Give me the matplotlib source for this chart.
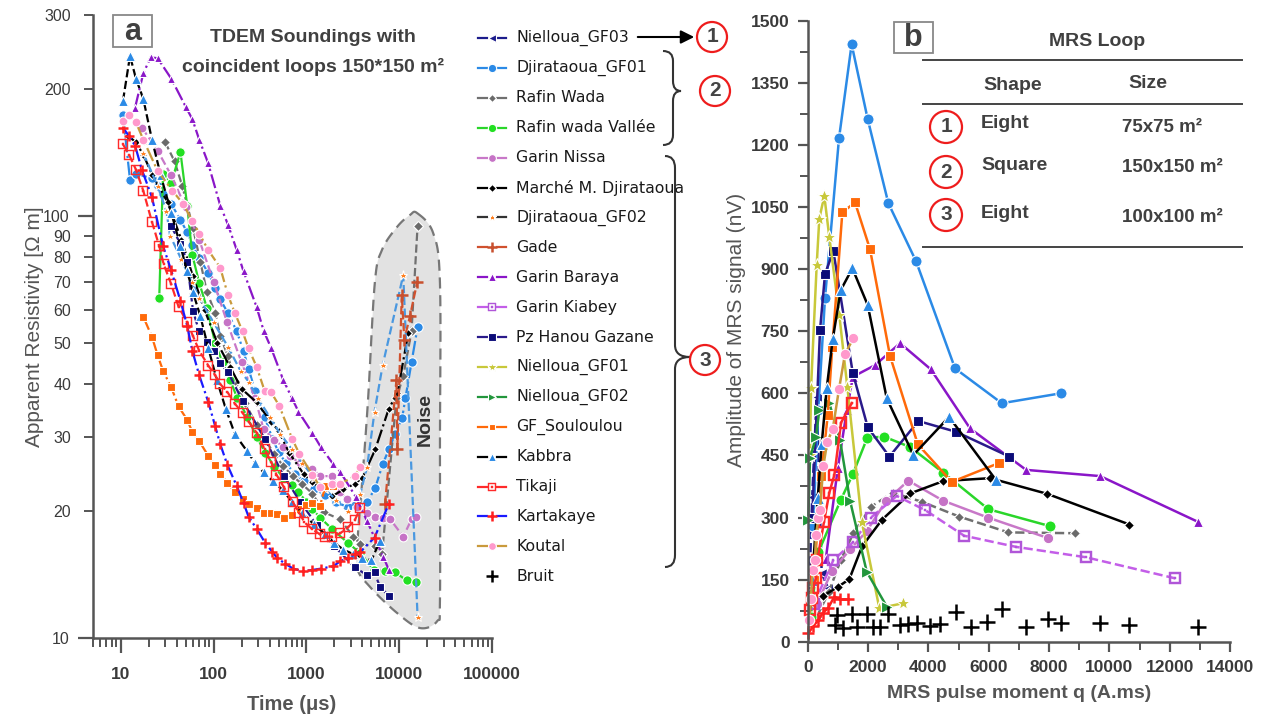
import numpy as np
import matplotlib
matplotlib.use('Agg')
import matplotlib.pyplot as plt
from matplotlib.lines import Line2D
from matplotlib.patches import Ellipse, Rectangle, PathPatch, Polygon, FancyArrowPatch
from matplotlib.path import Path
from matplotlib.ticker import FixedLocator, LogLocator, MultipleLocator, NullFormatter, FuncFormatter

plt.rcParams['font.family'] = ['Liberation Sans', 'DejaVu Sans']

W, H = 1270, 721

# ======================== Data: (a) TDEM soundings ========================
# time (us) / apparent resistivity (ohm.m)
djg01_t = [10.6, 12.6, 14.6, 21.7, 25, 28.6, 35, 44, 52, 59, 70, 88, 104, 118, 143, 178, 210, 238, 280,
           355, 430, 500, 600, 750, 950, 1200, 1600, 2100, 2800, 3500, 4500, 5500, 6600, 7700, 9000,
           10700, 11600, 13500, 15700]
djg01_rho = [174, 122, 126, 123, 118, 113, 107, 98, 91.6, 85.5, 79.6, 73.3, 67.5, 63.5, 58.9, 53.3, 47.8,
             43.5, 38.5, 33.4, 29.7, 27.6, 26, 24.5, 23.5, 22.6, 21.8, 21, 20.4, 20.5, 21, 22.7, 25.8, 28,
             30.5, 33.2, 37, 45, 54.6]

rw_t = [30, 38, 46, 60, 72, 85, 104, 118, 143, 170, 220, 290, 360, 450, 560, 710, 890, 1160, 1530, 2300,
        3200, 3800, 5500, 6500, 9300, 11000, 13500, 15700]
rw_rho = [150, 135, 118, 94, 78, 66, 59, 52, 46.5, 40.7, 36, 32, 29.5, 27.3, 25.6, 24.2, 23.2, 22, 19.9,
          19.1, 17.4, 16.7, 16.5, 15.8, 37, 41.8, 53.3, 95]

rwv_t = [26, 28.6, 35, 44, 52, 59, 70, 85, 104, 125, 150, 180, 230, 290, 360, 450, 560, 700, 820, 1000,
         1160, 1400, 1900, 2800, 3800, 5300, 7000, 9000, 12000, 15000]
rwv_rho = [64, 126, 120, 142, 106, 81, 69.6, 60.5, 50, 45, 41, 37, 33.5, 30, 27.5, 25.5, 24, 23, 22.2, 21,
           20.2, 19.3, 18.1, 16.8, 15.9, 14.5, 14.4, 14.3, 13.7, 13.6]

gn_t = [17, 25, 35, 50, 70, 100, 140, 200, 280, 345, 450, 560, 660, 850, 1160, 1400, 1900, 2300, 2700,
        3500, 4500, 5400, 6600, 8000, 11000, 13500, 15000]
gn_rho = [162, 143, 125, 105, 88, 70, 56, 45, 37, 31.3, 29.5, 28.4, 27, 26, 25.2, 24.2, 24.2, 22.2, 21.4,
          20.5, 19.8, 19.4, 19.3, 19.1, 17.4, 19.1, 19.4]

mm_t = [12, 14.5, 17.5, 22, 32, 45, 60, 80, 110, 150, 200, 290, 415, 500, 650, 930, 1160, 1500, 1900,
        2500, 3300, 4000, 5500, 7700, 9500, 12500]
mm_rho = [155, 150, 140, 125, 108, 88, 72, 60, 50, 44, 39, 36.2, 32.6, 31, 27.5, 24.5, 23.4, 22.5, 21.7,
          22.5, 23.2, 24, 28, 35, 38, 53]

djg02_t = [17.5, 25, 31, 34, 45, 58, 70, 100, 143, 195, 238, 300, 400, 520, 700, 900, 1200, 1600, 2100,
           2800, 3800, 4500, 5400, 6600, 11000, 15700]
djg02_rho = [141, 118, 103, 90, 79, 70, 64, 56, 49, 43, 40.5, 37, 33.5, 30.5, 28, 26, 24, 22.5, 21.2, 20,
             22, 25.5, 34.4, 44.3, 72.5, 11.2]

gade_t = [7000, 9300, 9500, 10600, 11300, 13000, 15600]
gade_rho = [20.8, 41, 28, 65, 51, 58, 70]

gb_t = [14.3, 17.5, 21, 25, 35, 50, 59, 70, 87, 118, 143, 178, 210, 290, 346, 418, 560, 700, 820, 1160,
        1420, 1950, 2300, 3400, 4500, 6700, 7700]
gb_rho = [181, 218, 238, 237, 212, 182, 170, 152, 134, 106, 95.5, 83, 74, 61, 53.5, 48.6, 41, 37, 34.4,
          30.6, 28.4, 25.8, 24.8, 21.6, 18.9, 15.6, 14.5]

ph_t = [35, 44, 52, 60, 70, 85, 100, 118, 143, 205, 355, 570, 860, 1300, 2000, 3300, 4500, 5400, 6200, 7700]
ph_rho = [94.6, 86, 78, 59.7, 53.3, 50.3, 48, 44.8, 42.7, 36.5, 29.7, 24.2, 21, 18.5, 16.5, 14.7, 14.1,
          14.3, 13.2, 12.6]

gfs_t = [17.5, 21.7, 25, 28.6, 35, 42, 52, 59, 70, 88, 104, 118, 141, 170, 205, 238, 290, 345, 415, 480,
         570, 700, 850, 1000, 1160, 1400, 1600, 1950]
gfs_rho = [57.8, 51.8, 46.8, 43, 39.3, 35.4, 32.9, 30.8, 29.3, 27, 25.7, 24.5, 23.3, 22.2, 21.4, 20.8, 20.3,
           19.8, 19.8, 19.7, 19.3, 19.6, 20.2, 20.7, 20.9, 20.6, 22.9, 22.9]

kab_t = [10.6, 12.6, 14.6, 17.5, 21.7, 27, 35, 44, 52, 60, 72, 88, 108, 135, 170, 230, 280, 345, 440, 560,
         700, 900, 1200, 1600, 2000, 2500, 3200, 4000, 5000, 6200]
kab_rho = [188, 240, 212, 190, 152, 125, 102, 85, 74, 66, 58, 48.6, 41, 35, 30.4, 27.7, 26, 24.7, 23.5,
           22.4, 21, 19.8, 18.6, 17.6, 16.8, 16.2, 15.8, 15.5, 15.3, 17]

tik_t = [10.6, 12.3, 14.6, 17.5, 21.7, 26, 29, 35, 42, 52, 60, 70, 88, 104, 118, 141, 170, 205, 238, 290,
         355, 415, 475, 570, 710, 840, 950, 1160, 1400, 1600, 1900, 2300, 2800, 3300, 3800]
tik_rho = [148, 140, 129, 115, 97, 85, 77, 69, 61, 56, 52, 48, 44.2, 42, 40, 38.3, 35.9, 34.2, 32.6, 30.7,
           28, 26.2, 24.4, 22.8, 21, 19.8, 18.8, 18.1, 17.6, 17.4, 17.4, 17.7, 18.3, 19.0, 20.3]

kar_t = [10.6, 12.3, 14.3, 16.9, 21.7, 28.6, 35, 44, 52, 59, 70, 88, 104, 118, 141, 178, 210, 238, 293,
         360, 430, 480, 590, 720, 910, 1160, 1420, 1950, 2300, 2800, 3300, 3800, 5400, 7700]
kar_rho = [162, 155, 147, 129, 111, 85, 74.4, 63, 55, 48, 42, 36.2, 31.8, 28.8, 25.7, 22.9, 20.9, 19.4,
           18.1, 16.8, 16.0, 15.5, 15.0, 14.6, 14.4, 14.5, 14.6, 14.8, 15.2, 15.5, 15.8, 16.0, 17.3, 20.8]

kou_t = [10.6, 12.3, 14.6, 17.5, 25, 36, 47, 59, 70, 88, 118, 143, 170, 205, 238, 290, 355, 415, 510, 700,
         840, 1160, 1400, 1900, 2300, 3300, 3800]
kou_rho = [168, 174, 167, 152, 128, 115, 107, 97.6, 91, 83, 75.5, 65, 58.9, 53.3, 48.6, 44, 38.5, 38.3,
           35.5, 29.7, 27.3, 24.4, 22.8, 23.2, 23.2, 24.2, 25.4]

# ======================== Data: (b) MRS soundings ========================
# pulse moment q (A.ms) / amplitude (nV)
gf03_q = [50, 150, 298, 464, 674]
gf03_amp = [120, 350, 592, 165, 130]

djg01_q = [180, 350, 574, 1038, 1456, 1990, 2674, 3592, 4886, 6435, 8392]
djg01_amp = [280, 560, 830, 1216, 1443, 1262, 1059, 919, 660, 576, 600]

rw_q = [300, 700, 1094, 1514, 2100, 2819, 3781, 5030, 6655, 8867]
rw_amp = [60, 120, 197, 262, 326, 360, 338, 302, 264, 262]

rwv_q = [100, 352, 1094, 1492, 1977, 2541, 3400, 4498, 5991, 8037]
rwv_amp = [60, 216, 342, 404, 493, 495, 470, 408, 320, 279]

gn_q = [300, 800, 1403, 1957, 2597, 3337, 4478, 5970, 7981]
gn_amp = [90, 170, 223, 267, 340, 389, 341, 300, 250]

mm_q = [500, 1015, 1380, 1800, 2455, 3393, 4498, 6048, 7948, 10668]
mm_amp = [110, 133, 151, 230, 294, 358, 388, 395, 357, 283]

gb_q = [600, 1000, 1300, 1500, 2232, 3062, 4080, 5384, 7241, 9696, 12923]
gb_amp = [200, 420, 560, 640, 668, 721, 658, 515, 415, 400, 290]

gk_q = [200, 850, 1500, 2100, 2952, 3891, 5185, 6909, 9221, 12183]
gk_amp = [90, 197, 240, 300, 352, 318, 256, 229, 204, 153]

ph_q = [150, 408, 574, 850, 1492, 1990, 2707, 3669, 4919, 6687]
ph_amp = [300, 752, 888, 944, 650, 518, 447, 533, 507, 447]

n01_q = [76, 110, 298, 385, 551, 717, 1048, 1313, 1791, 2375, 3171]
n01_amp = [451, 612, 910, 1022, 1077, 977, 789, 616, 290, 81, 93]

n02_q = [20, 76, 276, 385, 717, 1071, 1403, 1957, 2620]
n02_amp = [294, 443, 495, 560, 576, 487, 341, 169, 85]

gfs_q = [200, 450, 663, 816, 1148, 1569, 2066, 2730, 3649, 4776, 6356]
gfs_amp = [150, 400, 547, 712, 1037, 1061, 948, 690, 477, 386, 432]

kab_q = [150, 332, 464, 630, 829, 1094, 1481, 1990, 2620, 3503, 4687, 6246]
kab_amp = [150, 346, 477, 612, 730, 849, 902, 813, 588, 451, 543, 390]

tik_q = [76, 133, 186, 276, 319, 541, 717, 884, 1105, 1459]
tik_amp = [77, 105, 129, 155, 197, 290, 360, 403, 529, 576]

kar_q = [20, 186, 352, 497, 684, 884, 1071, 1347]
kar_amp = [20, 38, 52, 69, 82, 109, 102, 102]

kou_q = [53, 100, 163, 242, 276, 352, 408, 517, 650, 829, 1038, 1237, 1514]
kou_amp = [52, 102, 173, 197, 258, 298, 318, 424, 483, 513, 610, 695, 733]

bruit_q = [906, 961, 1182, 1459, 1625, 1957, 2176, 2398, 2674, 3062, 3337, 3615, 4057, 4388, 4919, 5407,
           5938, 6435, 7241, 7981, 8402, 9696, 10668, 12923]
bruit_amp = [40, 64, 32, 67, 36, 68, 35, 35, 67, 40, 43, 46, 38, 43, 72, 36, 48, 78, 35, 54, 46, 44, 40, 36]

time_ticks = [10, 100, 1000, 10000, 100000]
rho_major = [10, 100]
rho_minor = [20, 30, 40, 50, 60, 70, 80, 90, 200, 300]

# ======================== Series styles ========================
NAMES = ['Nielloua_GF03', 'Djirataoua_GF01', 'Rafin Wada', 'Rafin wada Vallée', 'Garin Nissa',
         'Marché M. Djirataoua', 'Djirataoua_GF02', 'Gade', 'Garin Baraya', 'Garin Kiabey',
         'Pz Hanou Gazane', 'Nielloua_GF01', 'Nielloua_GF02', 'GF_Souloulou', 'Kabbra', 'Tikaji',
         'Kartakaye', 'Koutal', 'Bruit']

TDEM = {
    'Djirataoua_GF01': (djg01_t, djg01_rho), 'Rafin Wada': (rw_t, rw_rho),
    'Rafin wada Vallée': (rwv_t, rwv_rho), 'Garin Nissa': (gn_t, gn_rho),
    'Marché M. Djirataoua': (mm_t, mm_rho), 'Djirataoua_GF02': (djg02_t, djg02_rho),
    'Gade': (gade_t, gade_rho), 'Garin Baraya': (gb_t, gb_rho), 'Pz Hanou Gazane': (ph_t, ph_rho),
    'GF_Souloulou': (gfs_t, gfs_rho), 'Kabbra': (kab_t, kab_rho), 'Tikaji': (tik_t, tik_rho),
    'Kartakaye': (kar_t, kar_rho), 'Koutal': (kou_t, kou_rho),
}
MRS = {
    'Nielloua_GF03': (gf03_q, gf03_amp), 'Djirataoua_GF01': (djg01_q, djg01_amp),
    'Rafin Wada': (rw_q, rw_amp), 'Rafin wada Vallée': (rwv_q, rwv_amp), 'Garin Nissa': (gn_q, gn_amp),
    'Marché M. Djirataoua': (mm_q, mm_amp), 'Garin Baraya': (gb_q, gb_amp),
    'Garin Kiabey': (gk_q, gk_amp), 'Pz Hanou Gazane': (ph_q, ph_amp), 'Nielloua_GF01': (n01_q, n01_amp),
    'Nielloua_GF02': (n02_q, n02_amp), 'GF_Souloulou': (gfs_q, gfs_amp), 'Kabbra': (kab_q, kab_amp),
    'Tikaji': (tik_q, tik_amp), 'Kartakaye': (kar_q, kar_amp), 'Koutal': (kou_q, kou_amp),
    'Bruit': (bruit_q, bruit_amp),
}

BOXDOT = r'$\boxdot$'
STYLE = {
    'Nielloua_GF03':        dict(lc='#1c1c8c', mc='#1c1c8c', m='<', ms=7, ls_a='--', ls_b='--'),
    'Djirataoua_GF01':      dict(lc='#2b8ae6', mc='#2b8ae6', m='o', ms=8, ls_a='-.', ls_b='-'),
    'Rafin Wada':           dict(lc='#707070', mc='#6a6a6a', m='D', ms=5.5, ls_a='--', ls_b='--'),
    'Rafin wada Vallée':    dict(lc='#2ad62a', mc='#22e022', m='o', ms=8, ls_a='-', ls_b='-'),
    'Garin Nissa':          dict(lc='#c878c8', mc='#c673c6', m='o', ms=7.5, ls_a='--', ls_b='-'),
    'Marché M. Djirataoua': dict(lc='black', mc='black', m='D', ms=5, ls_a='-.', ls_b='-'),
    'Djirataoua_GF02':      dict(lc='#333333', lc_a='#4a98e0', mc='#ff7f1e', m='*', ms=8, ls_a='--', ls_b='-'),
    'Gade':                 dict(lc='#d0512e', mc='#c8502e', m='+', ms=10, ls_a='--', ls_b='-'),
    'Garin Kiabey':         dict(lc='#c35ee8', mc='#b056d8', m=BOXDOT, ms=8, ls_a='--', ls_b='--'),
    'Garin Baraya':         dict(lc='#8a16c8', mc='#8a16c8', m='^', ms=7.5, ls_a='-.', ls_b='-'),
    'Pz Hanou Gazane':      dict(lc='#2a1a8a', mc='#0b0b78', m='s', ms=7, ls_a='--', ls_b='-'),
    'Nielloua_GF01':        dict(lc='#c8c83a', mc='#c8c83a', m='*', ms=10, ls_a='-', ls_b='-'),
    'Nielloua_GF02':        dict(lc='#22963c', mc='#22963c', m='>', ms=8, ls_a='-', ls_b='-'),
    'GF_Souloulou':         dict(lc='#ff6a0a', mc='#ff6a0a', m='s', ms=6.5, ls_a='-.', ls_b='-'),
    'Kabbra':               dict(lc='black', mc='#2b8ae6', m='^', ms=8, ls_a='--', ls_b='-'),
    'Tikaji':               dict(lc='#ff2a2a', mc='#ff2a2a', m=BOXDOT, ms=8, ls_a='--', ls_b='-'),
    'Kartakaye':            dict(lc='#1a1aff', lc_b='#ff2020', mc='#ff2020', m='+', ms=9, ls_a='-.', ls_b='-'),
    'Koutal':               dict(lc='#c99a3c', mc='#ff99cc', m='o', ms=7.5, ls_a='-.', ls_b='-'),
    'Bruit':                dict(lc='black', mc='black', m='+', ms=11, ls_a='none', ls_b='none'),
}


def marker_kw(st, scale=1.0):
    m = st['m']
    kw = dict(marker=m, markersize=st['ms'] * scale)
    if m == '+':
        kw.update(markeredgecolor=st['mc'], markeredgewidth=1.8)
    elif m == BOXDOT:
        kw.update(markerfacecolor=st['mc'], markeredgecolor=st['mc'], markeredgewidth=0.3)
    else:
        kw.update(markerfacecolor=st['mc'], markeredgecolor='white', markeredgewidth=0.8)
    return kw


def fx(px):
    return px / W


def fy(py):
    return 1 - py / H


def smooth_closed(pts, n=14):
    """Catmull-Rom closed outline."""
    pts = np.asarray(pts, dtype=float)
    P = np.vstack([pts[-1], pts, pts[0], pts[1]])
    out = []
    for i in range(1, len(pts) + 1):
        p0, p1, p2, p3 = P[i - 1], P[i], P[i + 1], P[i + 2]
        for s in np.linspace(0, 1, n, endpoint=False):
            out.append(0.5 * (2 * p1 + (-p0 + p2) * s + (2 * p0 - 5 * p1 + 4 * p2 - p3) * s ** 2
                              + (-p0 + 3 * p1 - 3 * p2 + p3) * s ** 3))
    return np.array(out)


def brace(fig, x0, xv, xt, y0, ym, y1, r=12):
    verts_px = [(x0, y0), (xv, y0), (xv, y0 + r), (xv, ym - r), (xv, ym), (xt, ym),
                (xv, ym), (xv, ym + r), (xv, y1 - r), (xv, y1), (x0, y1)]
    codes = [Path.MOVETO, Path.CURVE3, Path.CURVE3, Path.LINETO, Path.CURVE3, Path.CURVE3,
             Path.CURVE3, Path.CURVE3, Path.LINETO, Path.CURVE3, Path.CURVE3]
    verts = [(fx(a), fy(b)) for a, b in verts_px]
    fig.add_artist(PathPatch(Path(verts, codes), transform=fig.transFigure, fill=False,
                             ec='#333333', lw=1.5))


def circled(fig, px, py, label, r=15, size=15):
    fig.add_artist(Ellipse((fx(px), fy(py)), 2 * r / W, 2 * r / H, transform=fig.transFigure,
                           fill=False, ec='#ee1c1c', lw=1.6))
    fig.text(fx(px), fy(py), label, ha='center', va='center', fontsize=size, fontweight='bold',
             color='#444444')


# ======================== Figure ========================
fig = plt.figure(figsize=(W / 100, H / 100), dpi=100)
ax_a = fig.add_axes([fx(92.7), fy(638), (492.3 - 92.7) / W, (638 - 15) / H])
ax_b = fig.add_axes([fx(807.7), fy(641.7), (1230 - 807.7) / W, (641.7 - 20.7) / H])

GREY = '#555555'
TXT = '#3a3a3a'

# ---- panel a ----
ax_a.set_xscale('log')
ax_a.set_yscale('log')
ax_a.set_xlim(5, 1e5)
ax_a.set_ylim(10, 300)

noise_outline = [(0.812, 0.682), (0.852, 0.650), (0.869, 0.570), (0.869, 0.302), (0.869, 0.061),
                 (0.862, 0.027), (0.819, 0.016), (0.762, 0.040), (0.694, 0.082), (0.661, 0.114),
                 (0.664, 0.169), (0.674, 0.249), (0.689, 0.382), (0.706, 0.570), (0.724, 0.623),
                 (0.762, 0.660), (0.794, 0.679)]
ax_a.add_patch(Polygon(smooth_closed(noise_outline), closed=True, transform=ax_a.transAxes,
                       fc='#e2e2e2', ec='#777777', ls=(0, (5, 3)), lw=1.6, zorder=0.5))
ax_a.text(0.832, 0.35, 'Noise', transform=ax_a.transAxes, rotation=90, ha='center', va='center',
          fontsize=14, fontweight='bold', color='#333333', zorder=5)

for name in NAMES:
    if name not in TDEM:
        continue
    st = STYLE[name]
    t, rho = TDEM[name]
    ax_a.plot(t, rho, color=st.get('lc_a', st['lc']), ls=st['ls_a'], lw=1.6, zorder=2,
              **marker_kw(st, 0.85))

ax_a.xaxis.set_major_locator(FixedLocator(time_ticks))
ax_a.xaxis.set_major_formatter(FuncFormatter(lambda v, p: '%d' % round(v)))
ax_a.xaxis.set_minor_locator(LogLocator(base=10, subs=np.arange(2, 10)))
ax_a.xaxis.set_minor_formatter(NullFormatter())
ax_a.yaxis.set_major_locator(FixedLocator(rho_major))
ax_a.yaxis.set_major_formatter(FuncFormatter(lambda v, p: '%g' % v))
ax_a.yaxis.set_minor_locator(FixedLocator(rho_minor))
ax_a.yaxis.set_minor_formatter(FuncFormatter(lambda v, p: '%g' % v))

for s in ['top', 'right']:
    ax_a.spines[s].set_visible(False)
for s in ['left', 'bottom']:
    ax_a.spines[s].set_color(GREY)
    ax_a.spines[s].set_linewidth(1.8)
ax_a.tick_params(which='major', length=11, width=1.6, color=GREY, labelcolor=TXT)
ax_a.tick_params(which='minor', length=6.5, width=1.4, color=GREY, labelcolor=TXT)
ax_a.tick_params(axis='x', which='major', pad=10, labelsize=12.5)
ax_a.tick_params(axis='y', which='both', labelsize=11.5)
ax_a.tick_params(axis='y', which='major', pad=6)
ax_a.tick_params(axis='y', which='minor', pad=9)
plt.setp(ax_a.get_xticklabels(), fontweight='bold')

# ---- panel b ----
ax_b.set_xlim(0, 14000)
ax_b.set_ylim(0, 1500)
for name in NAMES:
    if name not in MRS:
        continue
    st = STYLE[name]
    q, amp = MRS[name]
    ax_b.plot(q, amp, color=st.get('lc_b', st['lc']), ls=st['ls_b'], lw=1.8, zorder=2, clip_on=False,
              **marker_kw(st, 1.0))

ax_b.xaxis.set_major_locator(MultipleLocator(2000))
ax_b.xaxis.set_minor_locator(MultipleLocator(1000))
ax_b.yaxis.set_major_locator(MultipleLocator(150))
ax_b.yaxis.set_minor_locator(MultipleLocator(75))
for s in ['top', 'right']:
    ax_b.spines[s].set_visible(False)
for s in ['left', 'bottom']:
    ax_b.spines[s].set_color(GREY)
    ax_b.spines[s].set_linewidth(1.8)
ax_b.tick_params(which='major', length=7, width=1.6, color=GREY, labelcolor=TXT, labelsize=12.5)
ax_b.tick_params(which='minor', length=6, width=1.4, color=GREY)
ax_b.tick_params(axis='x', which='major', pad=6)
ax_b.tick_params(axis='y', which='major', pad=6)
plt.setp(ax_b.get_xticklabels() + ax_b.get_yticklabels(), fontweight='bold')

# ---- axis labels ----
fig.text(fx(35), fy(327), 'Apparent Resistivity [Ω m]', rotation=90, ha='center', va='center',
         fontsize=15, color='#555555')
fig.text(fx(292), fy(705), 'Time (μs)', ha='center', va='center', fontsize=14.5, fontweight='bold',
         color='#555555')
fig.text(fx(737), fy(330), 'Amplitude of MRS signal (nV)', rotation=90, ha='center', va='center',
         fontsize=15, color='#555555')
fig.text(fx(1019), fy(694), 'MRS pulse moment q (A.ms)', ha='center', va='center', fontsize=14,
         fontweight='bold', color='#555555')

# ---- panel tags and titles ----
for (x0, y0, x1, y1, tag) in [(113, 15, 152, 47, 'a'), (894, 22, 933, 53, 'b')]:
    fig.add_artist(Rectangle((fx(x0), fy(y1)), (x1 - x0) / W, (y1 - y0) / H, transform=fig.transFigure,
                             fc='white', ec='#888888', lw=1.3))
    fig.text(fx((x0 + x1) / 2), fy((y0 + y1) / 2 + 1), tag, ha='center', va='center', fontsize=22,
             fontweight='bold', color='#404040')

fig.text(fx(313), fy(38), 'TDEM Soundings with', ha='center', va='center', fontsize=14,
         fontweight='bold', color='#404040')
fig.text(fx(313), fy(67), 'coincident loops 150*150 m²', ha='center', va='center', fontsize=14,
         fontweight='bold', color='#404040')

# ---- MRS loop table ----
for yl in [60, 104, 247]:
    fig.add_artist(Line2D([fx(923), fx(1242)], [fy(yl), fy(yl)], transform=fig.transFigure,
                          color='#444444', lw=1.4))
fig.text(fx(1097), fy(42), 'MRS Loop', ha='center', va='center', fontsize=14, fontweight='bold',
         color='#404040')
fig.text(fx(1013), fy(86), 'Shape', ha='center', va='center', fontsize=14, fontweight='bold',
         color='#404040')
fig.text(fx(1148), fy(83), 'Size', ha='center', va='center', fontsize=14, fontweight='bold',
         color='#404040')
loop_rows = [('1', 'Eight', '75x75 m²', 127, 124, 128),
             ('2', 'Square', '150x150 m²', 172, 166, 167),
             ('3', 'Eight', '100x100 m²', 215, 213, 218)]
for num, shape, size, yc, ys, yz in loop_rows:
    circled(fig, 946, yc, num, r=16)
    fig.text(fx(981), fy(ys), shape, ha='left', va='center', fontsize=14, fontweight='bold',
             color='#404040')
    fig.text(fx(1122), fy(yz), size, ha='left', va='center', fontsize=13.5, fontweight='bold',
             color='#404040')

# ---- legend (shared) ----
for i, name in enumerate(NAMES):
    st = STYLE[name]
    y = fy(38 + 29.9 * i)
    if name != 'Bruit':
        for xa, xb in [(478, 487), (497, 506)]:
            fig.add_artist(Line2D([fx(xa), fx(xb)], [y, y], transform=fig.transFigure,
                                  color=st['lc'], lw=1.6))
    fig.add_artist(Line2D([fx(492)], [y], transform=fig.transFigure, linestyle='none',
                          **marker_kw(st, 0.75)))
    fig.text(fx(516), y, name, ha='left', va='center', fontsize=11.3, color='#1a1a1a',
             family='DejaVu Sans')

# ---- loop groups: arrow, braces, circled numbers ----
fig.add_artist(FancyArrowPatch((fx(635), fy(37)), (fx(697), fy(37)), transform=fig.transFigure,
                               arrowstyle='-|>', mutation_scale=20, color='black', lw=1.5))
circled(fig, 712, 37, '1')
brace(fig, 663, 673, 681, 51, 91, 145, r=10)
circled(fig, 715, 91, '2')
brace(fig, 665, 675, 690, 156, 357, 567, r=12)
circled(fig, 705, 360, '3')

fig.savefig('out.png', dpi=100)
